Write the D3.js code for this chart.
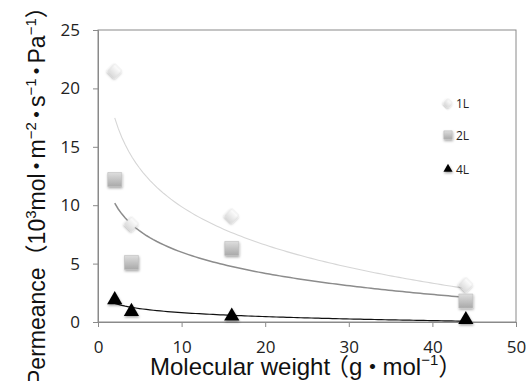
<!DOCTYPE html>
<html>
<head>
<meta charset="utf-8">
<script src="https://cdn.jsdelivr.net/npm/d3@7"></script>
<style>
  body { margin: 0; background: #fff; }
  svg { display: block; }
  .tick text { font-family: "Open Sans", "Noto Sans", sans-serif; font-size: 17px; fill: #222; }
  .ttl { font-family: "Liberation Sans", "Noto Sans CJK JP", sans-serif; fill: #111; }
  .leg { font-family: "Open Sans", "Noto Sans", sans-serif; font-size: 12px; fill: #222; }
</style>
</head>
<body>
<svg id="chart" width="529" height="381"></svg>
<script>
// molecular weights of H2, He, CH4, CO2
var weights = [2, 4, 16, 44];
var perm1L = [21.5, 8.4, 9.1, 3.2];
var perm2L = [12.2, 5.1, 6.3, 1.8];
var perm4L = [1.9, 0.9, 0.5, 0.2];
var seriesNames = ["1L", "2L", "4L"];
var xTicks = [0, 10, 20, 30, 40, 50];
var yTicks = [0, 5, 10, 15, 20, 25];

var svg = d3.select("#chart");
var pl = 98, pr = 516, pt = 30, pb = 322;

var x = d3.scaleLinear().domain([0, 50]).range([pl, pr]);
var y = d3.scaleLinear().domain([0, 25]).range([pb, pt]);

var defs = svg.append("defs");
var g1 = defs.append("linearGradient").attr("id", "gDia").attr("x1", 0).attr("y1", 0).attr("x2", 0).attr("y2", 1);
g1.append("stop").attr("offset", "0%").attr("stop-color", "#ffffff");
g1.append("stop").attr("offset", "100%").attr("stop-color", "#dcdcdc");
var g2 = defs.append("linearGradient").attr("id", "gSq").attr("x1", 0).attr("y1", 0).attr("x2", 0).attr("y2", 1);
g2.append("stop").attr("offset", "0%").attr("stop-color", "#dedede");
g2.append("stop").attr("offset", "100%").attr("stop-color", "#a9a9a9");
var sh = defs.append("filter").attr("id", "shadow").attr("x", "-50%").attr("y", "-50%").attr("width", "200%").attr("height", "200%");
sh.append("feDropShadow").attr("dx", 0.5).attr("dy", 1.5).attr("stdDeviation", 1.2)
  .attr("flood-color", "#000").attr("flood-opacity", 0.35);

// plot frame
svg.append("rect").attr("x", pl).attr("y", pt)
  .attr("width", pr - pl).attr("height", pb - pt)
  .attr("fill", "none").attr("stroke", "#8a8a8a").attr("stroke-width", 1);

var xAxis = svg.append("g").attr("transform", "translate(0," + pb + ")")
  .call(d3.axisBottom(x).tickValues(xTicks).tickSize(5).tickPadding(14));
var yAxis = svg.append("g").attr("transform", "translate(" + pl + ",0)")
  .call(d3.axisLeft(y).tickValues(yTicks).tickSize(5).tickPadding(13));
[xAxis, yAxis].forEach(function(a) {
  a.select(".domain").attr("stroke", "#8a8a8a");
  a.selectAll(".tick line").attr("stroke", "#8a8a8a");
});

// logarithmic least squares trendline, like the spreadsheet does
function logFit(xs, ys) {
  var lx = xs.map(Math.log);
  var mx = d3.mean(lx), my = d3.mean(ys);
  var sxy = d3.sum(lx, function(v, i) { return (v - mx) * (ys[i] - my); });
  var sxx = d3.sum(lx, function(v) { return (v - mx) * (v - mx); });
  var b = sxy / sxx;
  return function(t) { return my + b * (Math.log(t) - mx); };
}

var series = [
  { name: seriesNames[0], vals: perm1L, line: "#d6d6d6", lw: 1.1 },
  { name: seriesNames[1], vals: perm2L, line: "#8c8c8c", lw: 1.5 },
  { name: seriesNames[2], vals: perm4L, line: "#111", lw: 1.2 }
];

var line = d3.line().x(function(d) { return x(d[0]); }).y(function(d) { return y(d[1]); });
series.forEach(function(s) {
  var f = logFit(weights, s.vals);
  var pts = d3.range(0, 101).map(function(i) {
    var t = weights[0] + (weights[weights.length - 1] - weights[0]) * i / 100;
    return [t, Math.max(0, f(t))];
  });
  svg.append("path").attr("d", line(pts))
    .attr("fill", "none").attr("stroke", s.line).attr("stroke-width", s.lw);
});

function drawMarker(sel, idx, cx, cy, scale) {
  if (idx == 0) {
    sel.append("path")
      .attr("d", d3.symbol().type(d3.symbolSquare).size(100 * scale * scale)())
      .attr("transform", "translate(" + cx + "," + cy + ") rotate(45)")
      .attr("fill", "url(#gDia)").attr("stroke", "#e0e0e0").attr("stroke-width", 0.6)
      .attr("filter", "url(#shadow)");
  } else if (idx == 1) {
    sel.append("path")
      .attr("d", d3.symbol().type(d3.symbolSquare).size(196 * scale * scale)())
      .attr("transform", "translate(" + cx + "," + cy + ")")
      .attr("fill", "url(#gSq)").attr("stroke", "#bdbdbd").attr("stroke-width", 0.6)
      .attr("filter", "url(#shadow)");
  } else {
    sel.append("path")
      .attr("d", d3.symbol().type(d3.symbolTriangle).size(100 * scale * scale)())
      .attr("transform", "translate(" + cx + "," + cy + ")")
      .attr("fill", "#000")
      .attr("filter", "url(#shadow)");
  }
}

series.forEach(function(s, si) {
  var gm = svg.append("g");
  s.vals.forEach(function(v, i) {
    drawMarker(gm, si, x(weights[i]), y(v), 1);
  });
});

// legend
var legY = [103, 135, 169];
series.forEach(function(s, si) {
  var lg = svg.append("g");
  drawMarker(lg, si, 448, legY[si], 0.6);
  lg.append("text").attr("class", "leg").attr("x", 456).attr("y", legY[si] + 4.5).text(s.name);
});

// axis titles
var xt = svg.append("text").attr("class", "ttl").attr("font-size", 24)
  .attr("x", 150).attr("y", 375);
xt.append("tspan").text("Molecular weight");
xt.append("tspan").attr("dx", -5).text("（");
xt.append("tspan").text("g");
xt.append("tspan").attr("dx", -2).text("・");
xt.append("tspan").attr("dx", -2).text("mol");
xt.append("tspan").attr("font-size", 15).attr("dy", -10).text("−1");
xt.append("tspan").attr("dy", 10).text("）");

var yt = svg.append("text").attr("class", "ttl").attr("font-size", 23)
  .attr("transform", "translate(45,385) rotate(-90)");
yt.append("tspan").text("Permeance");
yt.append("tspan").text("（");
yt.append("tspan").text("10");
yt.append("tspan").attr("font-size", 15).attr("dy", -9).text("3");
yt.append("tspan").attr("dy", 9).text("mol");
yt.append("tspan").attr("dx", -4).text("・");
yt.append("tspan").attr("dx", -4).text("m");
yt.append("tspan").attr("font-size", 15).attr("dy", -9).text("−2");
yt.append("tspan").attr("dy", 9).attr("dx", -4).text("・");
yt.append("tspan").attr("dx", -4).text("s");
yt.append("tspan").attr("font-size", 15).attr("dy", -9).text("−1");
yt.append("tspan").attr("dy", 9).attr("dx", -4).text("・");
yt.append("tspan").attr("dx", -4).text("Pa");
yt.append("tspan").attr("font-size", 15).attr("dy", -9).text("−1");
yt.append("tspan").attr("dy", 9).text("）");
</script>
</body>
</html>
